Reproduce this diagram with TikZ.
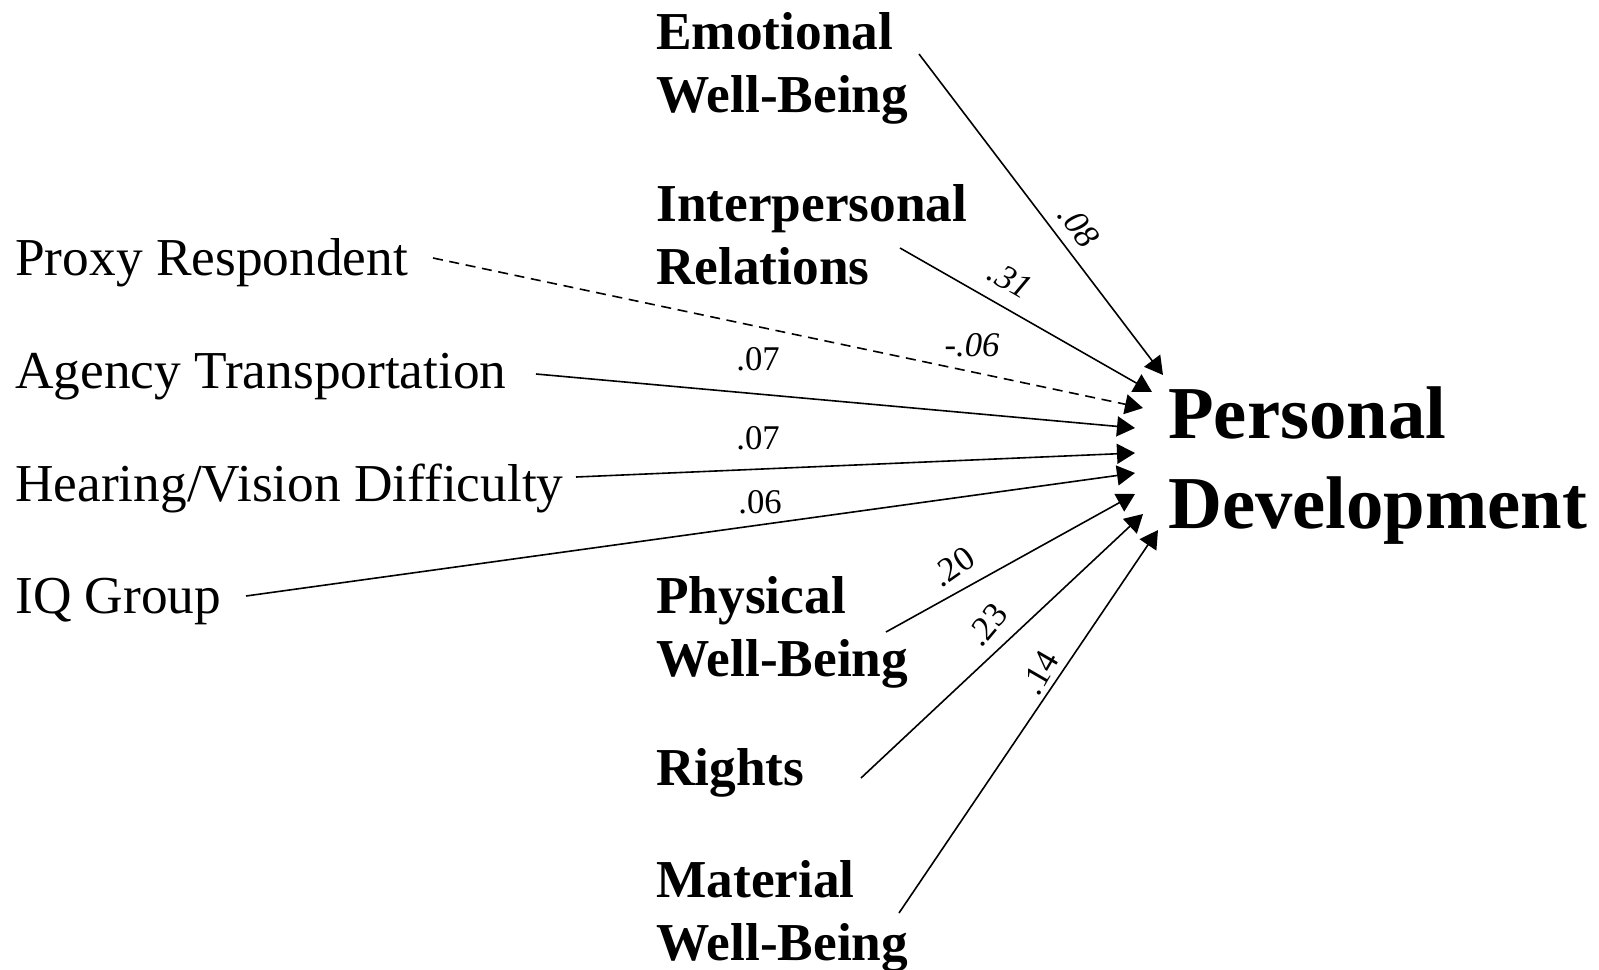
\documentclass[tikz,border=0pt]{standalone}
\usepackage{fontspec}
\setmainfont{Liberation Serif}
\usetikzlibrary{arrows.meta}
\begin{document}
\begin{tikzpicture}[x=0.75pt,y=-0.75pt,
  lab/.style={anchor=base west, inner sep=0pt, font=\fontsize{40}{47.25}\selectfont},
  blab/.style={anchor=base west, inner sep=0pt, font=\fontsize{40}{47.25}\selectfont\bfseries},
  coef/.style={inner sep=0pt, font=\fontsize{26}{30}\selectfont},
  icoef/.style={inner sep=0pt, font=\fontsize{26}{30}\selectfont\itshape},
  conn/.style={-{Triangle[length=13.5pt,width=15pt]}, line width=1.2pt},
  dconn/.style={conn, dash pattern=on 7.5pt off 5pt}]
\useasboundingbox (0,0) rectangle (1599,970);

% left (regular) variables
\node[lab] (proxy)  at (15,275) {Proxy Respondent};
\node[lab] (agency) at (15,388) {Agency Transportation};
\node[lab] (hear)   at (15,501) {Hearing/Vision Difficulty};
\node[lab] (iq)     at (15,613) {IQ Group};

% middle (bold) variables
\node[blab] (emo)    at (656,50)  {\begin{tabular}[t]{@{}l@{}}Emotional\\Well-Being\end{tabular}};
\node[blab] (inter)  at (656,222) {\begin{tabular}[t]{@{}l@{}}Interpersonal\\Relations\end{tabular}};
\node[blab] (phys)   at (656,613) {\begin{tabular}[t]{@{}l@{}}Physical\\Well-Being\end{tabular}};
\node[blab] (rights) at (656,785) {Rights};
\node[blab] (mat)    at (656,897) {\begin{tabular}[t]{@{}l@{}}Material\\Well-Being\end{tabular}};

% outcome
\node[anchor=base west, inner sep=0pt, font=\fontsize{56}{67.5}\selectfont\bfseries] (pd) at (1168,438)
  {\begin{tabular}[t]{@{}l@{}}Personal\\Development\end{tabular}};

% connector end points
\coordinate (emo-s) at (919,54);    \coordinate (emo-t) at (1163,375);
\coordinate (int-s) at (900,248);   \coordinate (int-t) at (1152,392);
\coordinate (pr-s) at (433,258);    \coordinate (pr-t) at (1143,408);
\coordinate (ag-s) at (536,374);    \coordinate (ag-t) at (1135,428);
\coordinate (he-s) at (576,477);    \coordinate (he-t) at (1135,453);
\coordinate (iq-s) at (246,596);    \coordinate (iq-t) at (1135,473);
\coordinate (ph-s) at (886,632);    \coordinate (ph-t) at (1135,494);
\coordinate (ri-s) at (861,778);    \coordinate (ri-t) at (1143,514);
\coordinate (ma-s) at (899,913);    \coordinate (ma-t) at (1158,530);

\draw[conn]  (emo-s) -- (emo-t);
\draw[conn]  (int-s) -- (int-t);
\draw[dconn] (pr-s) -- (pr-t);
\draw[conn]  (ag-s) -- (ag-t);
\draw[conn]  (he-s) -- (he-t);
\draw[conn]  (iq-s) -- (iq-t);
\draw[conn]  (ph-s) -- (ph-t);
\draw[conn]  (ri-s) -- (ri-t);
\draw[conn]  (ma-s) -- (ma-t);

% coefficients
\node[icoef, rotate=-53] (c-emo) at (1079,226) {.08};
\node[icoef, rotate=-30] (c-int) at (1010,280) {.31};
\node[icoef] (c-pr) at (972,345) {-.06};
\node[coef] (c-ag) at (758,359) {.07};
\node[coef] (c-he) at (758,438) {.07};
\node[coef] (c-iq) at (760,502) {.06};
\node[coef, rotate=35] (c-ph) at (953,567) {.20};
\node[coef, rotate=50] (c-ri) at (987,625) {.23};
\node[coef, rotate=60] (c-ma) at (1040,673) {.14};
\end{tikzpicture}
\end{document}
